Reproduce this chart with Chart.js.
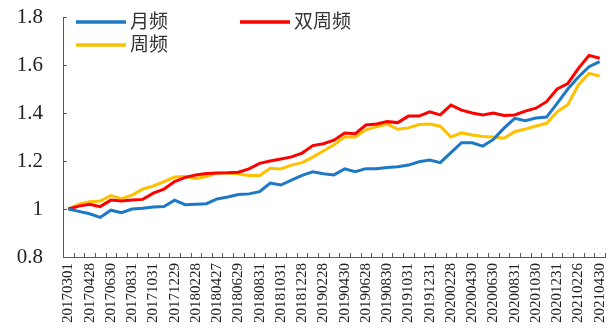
<!DOCTYPE html>
<html>
<head>
<meta charset="utf-8">
<script src="https://cdn.jsdelivr.net/npm/chart.js@4/dist/chart.umd.min.js"></script>
<style>
  body { margin: 0; background: #fff; }
</style>
</head>
<body>
<canvas id="line-chart" width="612" height="336"></canvas>
<script>
// date labels shown under the axis (one every two periods)
const dateLabels = ['20170301','20170428','20170630','20170831','20171031','20171229',
	'20180228','20180427','20180629','20180831','20181031','20181228',
	'20190228','20190430','20190628','20190830','20191031','20191231',
	'20200228','20200430','20200630','20200831','20201030','20201231',
	'20210226','20210430'];

const yTicks = [0.8, 1, 1.2, 1.4, 1.6, 1.8];

// net value of each rebalancing frequency
const monthly = [1.0, 0.99, 0.98, 0.965, 0.995, 0.985, 1.0, 1.003, 1.008, 1.01,
	1.037, 1.018, 1.02, 1.022, 1.042, 1.05, 1.06, 1.063, 1.072, 1.108,
	1.1, 1.12, 1.14, 1.155, 1.147, 1.142, 1.167, 1.155, 1.168, 1.168,
	1.173, 1.176, 1.183, 1.197, 1.204, 1.193, 1.235, 1.276, 1.276, 1.262,
	1.29, 1.337, 1.378, 1.368, 1.379, 1.383, 1.44, 1.5, 1.55, 1.593, 1.614];

const biweekly = [1.0, 1.012, 1.02, 1.01, 1.037, 1.033, 1.037, 1.04, 1.066, 1.083,
	1.114, 1.132, 1.142, 1.148, 1.15, 1.151, 1.153, 1.167, 1.19, 1.2,
	1.208, 1.217, 1.233, 1.264, 1.272, 1.287, 1.317, 1.314, 1.35, 1.354,
	1.364, 1.36, 1.387, 1.387, 1.405, 1.392, 1.433, 1.412, 1.4, 1.392,
	1.4, 1.39, 1.392, 1.408, 1.42, 1.447, 1.5, 1.523, 1.586, 1.64, 1.628];

const weekly = [1.0, 1.02, 1.03, 1.033, 1.056, 1.043, 1.058, 1.083, 1.096, 1.114,
	1.133, 1.135, 1.127, 1.135, 1.15, 1.15, 1.146, 1.14, 1.14, 1.17,
	1.167, 1.183, 1.193, 1.216, 1.242, 1.268, 1.3, 1.3, 1.33, 1.343,
	1.354, 1.332, 1.338, 1.352, 1.354, 1.345, 1.3, 1.317, 1.308, 1.302,
	1.3, 1.295, 1.322, 1.333, 1.346, 1.357, 1.405, 1.435, 1.517, 1.565, 1.554];

// one category per period, label only every second one
var labels = monthly.map(function(v, i) {
	return i % 2 === 0 ? dateLabels[i / 2] : '';
});

const axisColor = '#595959';
const serif = '"Liberation Serif", "DejaVu Serif", serif';

// tick marks pointing into the plot
const innerTicks = {
	id: 'innerTicks',
	afterDatasetsDraw(chart) {
		const ctx = chart.ctx;
		const x = chart.scales.x, y = chart.scales.y;
		const area = chart.chartArea;
		ctx.save();
		ctx.strokeStyle = axisColor;
		ctx.lineWidth = 1;
		ctx.beginPath();
		const step = x.getPixelForValue(1) - x.getPixelForValue(0);
		for (let i = 0; i <= labels.length; i++) {
			const px = Math.round(x.getPixelForValue(i) - step / 2) + 0.5;
			ctx.moveTo(px, area.bottom);
			ctx.lineTo(px, area.bottom - 4);
		}
		yTicks.forEach(function(v) {
			const py = Math.round(y.getPixelForValue(v)) + 0.5;
			ctx.moveTo(area.left, py);
			ctx.lineTo(area.left + 4, py);
		});
		ctx.stroke();
		ctx.restore();
	}
};

// legend laid out in two columns inside the plot
const legendBox = {
	id: 'legendBox',
	afterDraw(chart) {
		const ctx = chart.ctx;
		const spots = [[76, 22], [240, 22], [76, 45]];
		ctx.save();
		ctx.font = '19px "Noto Sans CJK SC"';
		ctx.textBaseline = 'middle';
		chart.data.datasets.forEach(function(d, i) {
			const s = spots[i];
			ctx.strokeStyle = d.borderColor;
			ctx.lineWidth = 3.5;
			ctx.beginPath();
			ctx.moveTo(s[0], s[1]);
			ctx.lineTo(s[0] + 50, s[1]);
			ctx.stroke();
			ctx.fillStyle = '#333';
			ctx.fillText(d.label, s[0] + 54, s[1] - 1);
		});
		ctx.restore();
	}
};

function make_line(ds, color) {
	return {
		label: ds.label,
		data: ds.data,
		borderColor: color,
		backgroundColor: color,
		borderWidth: 3,
		pointRadius: 0,
		tension: 0,
		fill: false
	};
}

new Chart(document.getElementById('line-chart'), {
	type: 'line',
	data: {
		labels: labels,
		datasets: [
			make_line({label: '月频', data: monthly}, '#1E78C8'),
			make_line({label: '双周频', data: biweekly}, '#FF0000'),
			make_line({label: '周频', data: weekly}, '#FFC000')
		]
	},
	options: {
		responsive: false,
		animation: false,
		layout: { padding: { top: 17, right: 7, left: 0, bottom: 0 } },
		plugins: {
			legend: { display: false },
			tooltip: { enabled: false }
		},
		scales: {
			x: {
				offset: true,
				grid: { display: false, drawTicks: false },
				border: { display: true, color: axisColor, width: 1 },
				ticks: {
					autoSkip: false,
					minRotation: 90,
					maxRotation: 90,
					padding: 6,
					color: '#222',
					font: { family: serif, size: 15 },
					callback: function(v, i) { return labels[i]; }
				},
				afterFit: function(scale) {
					scale.height = 79;
					scale.paddingLeft = 0;
					scale.paddingRight = 0;
				}
			},
			y: {
				min: 0.8,
				max: 1.8,
				grid: { display: false, drawTicks: false },
				border: { display: true, color: axisColor, width: 1 },
				ticks: {
					stepSize: 0.2,
					padding: 20,
					color: '#222',
					font: { family: serif, size: 21 },
					callback: function(v) { return String(+v.toFixed(1)); }
				},
				afterFit: function(scale) {
					scale.width = 63;
					scale.paddingTop = 0;
					scale.paddingBottom = 0;
				}
			}
		}
	},
	plugins: [innerTicks, legendBox]
});
</script>
</body>
</html>
